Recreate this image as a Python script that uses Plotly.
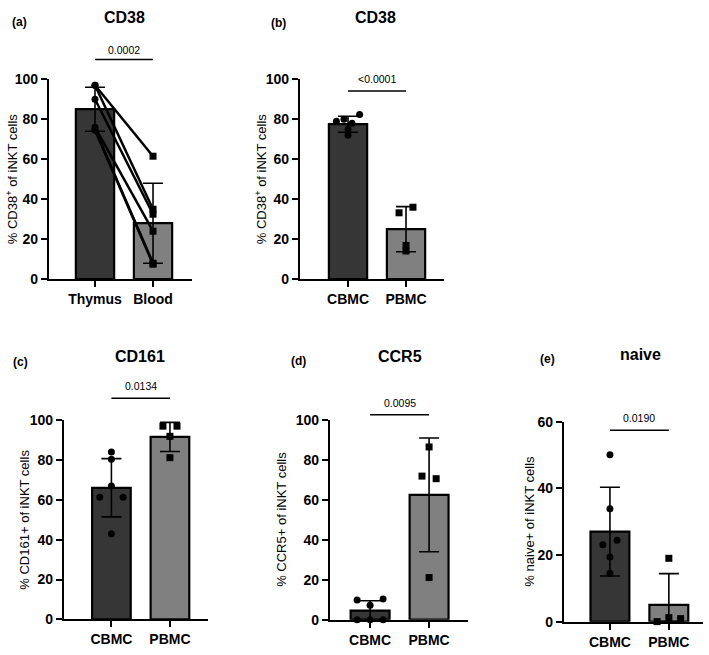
import plotly.graph_objects as go

# ---------------- data ----------------
# (a) CD38 paired thymus / blood
a_cats = ["Thymus", "Blood"]
a_thymus = [97, 97, 90, 76, 75, 74.5]
a_blood = [61.5, 35, 32.5, 24, 8, 7.5]
a_means = [85, 28]
a_sd = [11, 20]
a_p = "0.0002"

# (b) CD38 CBMC / PBMC
b_cats = ["CBMC", "PBMC"]
b_cbmc = [79, 80, 82.3, 78, 72, 75]
b_pbmc = [36, 33.2, 16.9, 14.1]
b_means = [77.5, 25]
b_sd = [4, 11.3]
b_p = "<0.0001"

# (c) CD161
c_cats = ["CBMC", "PBMC"]
c_cbmc = [84, 80.3, 66.9, 61.2, 61.2, 42.9]
c_pbmc = [96.9, 96.9, 91.8, 81.1]
c_means = [66, 91.5]
c_sd = [14.6, 7.3]
c_p = "0.0134"

# (d) CCR5
d_cats = ["CBMC", "PBMC"]
d_cbmc = [9.8, 10.4, 7.2, 0, 0, 0]
d_pbmc = [86.5, 71.9, 70.6, 21.1]
d_means = [4.5, 62.5]
d_sd = [5, 28.5]
d_p = "0.0095"

# (e) naive
e_cats = ["CBMC", "PBMC"]
e_cbmc = [50.1, 33.9, 23.1, 24.4, 19.4, 14.5]
e_pbmc = [0, 1.2, 0.9, 19.0]
e_means = [27, 5]
e_sd = [13.3, 9.4]
e_p = "0.0190"

# ---------------- layout helpers ----------------
W, H = 709, 655
DARK = "#363636"
LIGHT = "#808080"
FONT = "Liberation Sans, Arial, sans-serif"

# x jitter (category units) for the scatter dots
b_cbmc_dx = [-0.2, -0.07, 0.2, 0.07, 0.0, 0.0]
b_pbmc_dx = [0.12, -0.12, 0.0, 0.0]
c_cbmc_dx = [0.0, 0.0, 0.0, -0.2, 0.2, 0.0]
c_pbmc_dx = [-0.12, 0.12, 0.0, 0.0]
d_cbmc_dx = [-0.22, 0.22, 0.0, -0.22, 0.0, 0.22]
d_pbmc_dx = [0.0, -0.12, 0.12, 0.0]
e_cbmc_dx = [0.0, 0.0, -0.12, 0.12, 0.0, 0.0]
e_pbmc_dx = [-0.2, 0.0, 0.2, 0.0]

panels = [
    dict(cats=a_cats, means=a_means, sd=a_sd, groups=None,
         xd=(49, 192), yd=(278, 73), xr=(-0.793, 1.672), yr=(0, 100), dt=20,
         ytitle="% CD38<sup>+</sup> of iNKT cells", ytx=12, title="CD38", tx=124, ty=10,
         letter="(a)", lx=19, ly=14, p=a_p, py_line=109.8, py_text=114.6),
    dict(cats=b_cats, means=b_means, sd=b_sd,
         groups=[(b_cbmc, b_cbmc_dx, "circle"), (b_pbmc, b_pbmc_dx, "square")],
         xd=(300, 444), yd=(278, 73), xr=(-0.828, 1.655), yr=(0, 100), dt=20,
         ytitle="% CD38<sup>+</sup> of iNKT cells", ytx=261, title="CD38", tx=376, ty=10,
         letter="(b)", lx=278, ly=15, p=b_p, py_line=94.1, py_text=100),
    dict(cats=c_cats, means=c_means, sd=c_sd,
         groups=[(c_cbmc, c_cbmc_dx, "circle"), (c_pbmc, c_pbmc_dx, "square")],
         xd=(64, 208), yd=(626.7, 422.3), xr=(-0.81, 1.65), yr=(0, 100), dt=20,
         ytitle="% CD161+ of iNKT cells", ytx=25, title="CD161", tx=140, ty=357,
         letter="(c)", lx=20, ly=363, p=c_p, py_line=110.9, py_text=116.8),
    dict(cats=d_cats, means=d_means, sd=d_sd,
         groups=[(d_cbmc, d_cbmc_dx, "circle"), (d_pbmc, d_pbmc_dx, "square")],
         xd=(330, 468), yd=(627, 422.3), xr=(-0.68, 1.66), yr=(0, 100), dt=20,
         ytitle="% CCR5+ of iNKT cells", ytx=282, title="CCR5", tx=400, ty=357,
         letter="(d)", lx=298, ly=362, p=d_p, py_line=102.6, py_text=108.4),
    dict(cats=e_cats, means=e_means, sd=e_sd,
         groups=[(e_cbmc, e_cbmc_dx, "circle"), (e_pbmc, e_pbmc_dx, "square")],
         xd=(564, 703), yd=(629, 424), xr=(-0.78, 1.58), yr=(0, 60), dt=20,
         ytitle="% naive+ of iNKT cells", ytx=530, title="naive", tx=640, ty=355,
         letter="(e)", lx=547, ly=360, p=e_p, py_line=57.4, py_text=61.2),
]

fig = go.Figure()
layout = dict(width=W, height=H, margin=dict(l=0, r=0, t=0, b=0),
              paper_bgcolor="white", plot_bgcolor="white", showlegend=False,
              font=dict(family=FONT, color="black"))
shapes = []
annotations = []
TICKFONT = dict(size=14, family=FONT, color="black", weight="bold")

for i, P in enumerate(panels):
    n = "" if i == 0 else str(i + 1)
    xa, ya = "x" + n, "y" + n
    fig.add_trace(go.Bar(
        x=[0, 1], y=P["means"], xaxis=xa, yaxis=ya, width=0.66,
        marker=dict(color=[DARK, LIGHT], line=dict(color="black", width=2.2)),
        error_y=dict(type="data", array=P["sd"],
                     arrayminus=[min(s, m) for s, m in zip(P["sd"], P["means"])],
                     color="black", thickness=1.6, width=10),
    ))
    if P["groups"] is None:
        for t, b in zip(a_thymus, a_blood):
            fig.add_trace(go.Scatter(
                x=[0, 1], y=[t, b], xaxis=xa, yaxis=ya, mode="lines+markers",
                line=dict(color="black", width=2.5), cliponaxis=False,
                marker=dict(symbol=["circle", "square"], size=7, color="black"),
            ))
    else:
        for gi, (vals, dx, sym) in enumerate(P["groups"]):
            fig.add_trace(go.Scatter(
                x=[gi + d for d in dx], y=vals, xaxis=xa, yaxis=ya, mode="markers",
                cliponaxis=False,
                marker=dict(symbol=sym, size=7, color="black"),
            ))
    xd = [P["xd"][0] / W, P["xd"][1] / W]
    yd = [1 - P["yd"][0] / H, 1 - P["yd"][1] / H]
    layout["xaxis" + n] = dict(
        domain=xd, anchor=ya, range=list(P["xr"]), tickvals=[0, 1], ticktext=P["cats"],
        showline=True, linecolor="black", linewidth=2.2, ticks="outside", ticklen=6,
        tickwidth=2, tickcolor="black", showgrid=False, zeroline=False,
        tickfont=TICKFONT, fixedrange=True)
    layout["yaxis" + n] = dict(
        domain=yd, anchor=xa, range=list(P["yr"]), dtick=P["dt"], tick0=0,
        showline=True, linecolor="black", linewidth=2.2, ticks="outside", ticklen=6,
        tickwidth=2, tickcolor="black", showgrid=False, zeroline=False,
        tickfont=TICKFONT, fixedrange=True)

    # significance bracket, positioned in axis-domain units derived from the axis ranges
    def fx(v, r=P["xr"]):
        return (v - r[0]) / (r[1] - r[0])

    def fy(v, r=P["yr"]):
        return (v - r[0]) / (r[1] - r[0])

    shapes.append(dict(type="line", xref=xa + " domain", yref=ya + " domain",
                       x0=fx(0), x1=fx(1), y0=fy(P["py_line"]), y1=fy(P["py_line"]),
                       line=dict(color="black", width=1.5)))
    annotations.append(dict(xref=xa + " domain", yref=ya + " domain", x=fx(0.5),
                            y=fy(P["py_text"]), text=P["p"], showarrow=False,
                            font=dict(size=10.5, family=FONT),
                            xanchor="center", yanchor="middle"))
    annotations.append(dict(xref="paper", yref="paper", x=P["ytx"] / W,
                            y=(yd[0] + yd[1]) / 2, text=P["ytitle"], textangle=-90,
                            showarrow=False, font=dict(size=13, family=FONT),
                            xanchor="center", yanchor="middle"))
    annotations.append(dict(xref="paper", yref="paper", x=P["tx"] / W, y=1 - P["ty"] / H,
                            text="<b>%s</b>" % P["title"], showarrow=False,
                            font=dict(size=16, family=FONT), xanchor="center",
                            yanchor="middle"))
    annotations.append(dict(xref="paper", yref="paper", x=P["lx"] / W, y=1 - P["ly"] / H,
                            text="<b>%s</b>" % P["letter"], showarrow=False,
                            font=dict(size=12, family=FONT), xanchor="center",
                            yanchor="middle"))

layout["shapes"] = shapes
layout["annotations"] = annotations
fig.update_layout(**layout)
fig.write_html("out.html")
